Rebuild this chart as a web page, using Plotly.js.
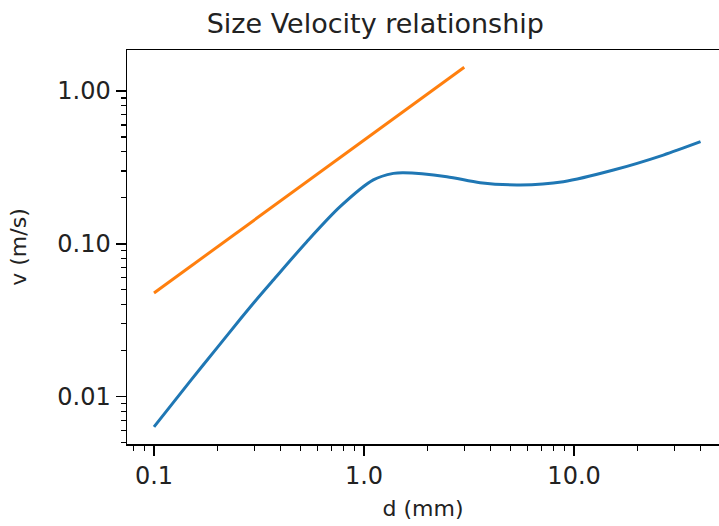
<!DOCTYPE html>
<html>
<head>
<meta charset="utf-8">
<script src="https://cdn.plot.ly/plotly-3.0.1.min.js"></script>
<style>html,body{margin:0;padding:0;background:#fff;}#chart{width:719px;height:526px;}</style>
</head>
<body>
<div id="chart"></div>
<script>
// Blue curve: settling velocity vs grain size
const dSettling = [0.1, 0.15, 0.2, 0.26, 0.3, 0.37, 0.534, 0.769, 1.107, 1.38, 1.54, 2.48, 3.57, 5.53, 8.89, 15.4, 26.6, 40];
const vSettling = [0.00635, 0.01284, 0.02093, 0.0327, 0.0415, 0.058, 0.1033, 0.175, 0.262, 0.289, 0.292, 0.275, 0.251, 0.243, 0.255, 0.304, 0.381, 0.466];
// Orange line
const dLinear = [0.1, 3];
const vLinear = [0.0477, 1.43];

const xTickVals = [0.1, 1, 10];
const xTickText = ["0.1", "1.0", "10.0"];
const yTickVals = [0.01, 0.1, 1];
const yTickText = ["0.01", "0.10", "1.00"];

const font = "DejaVu Sans, sans-serif";

const traces = [
  {x: dSettling, y: vSettling, mode: "lines", line: {color: "#1f77b4", width: 3, shape: "spline", smoothing: 0.8}, showlegend: false},
  {x: dLinear, y: vLinear, mode: "lines", line: {color: "#ff7f0e", width: 3}, showlegend: false}
];

const layout = {
  width: 719, height: 526,
  margin: {l: 127, r: 0, t: 50, b: 82},
  paper_bgcolor: "#fff", plot_bgcolor: "#fff",
  font: {family: font, color: "#222"},
  title: {text: "Size Velocity relationship", font: {size: 27, family: font, color: "#222"}, x: 0.522, xref: "container", xanchor: "center", y: 1, yref: "container", yanchor: "top", pad: {t: 14}},
  xaxis: {
    type: "log", range: [-1.1286, 1.690],
    tickvals: xTickVals, ticktext: xTickText,
    ticks: "outside", ticklen: 10, tickwidth: 1.5, tickcolor: "#000",
    minor: {ticks: "outside", ticklen: 5, tickwidth: 1.2, tickcolor: "#000", dtick: "D1", showgrid: false},
    showline: true, linecolor: "#000", linewidth: 1.5, mirror: true,
    showgrid: false, zeroline: false,
    tickfont: {size: 24, family: font, color: "#222"},
    title: {text: "d (mm)", font: {size: 22, family: font, color: "#222"}, standoff: 11},
    automargin: false
  },
  yaxis: {
    type: "log", range: [-2.3095, 0.2682],
    tickvals: yTickVals, ticktext: yTickText,
    ticks: "outside", ticklen: 10, tickwidth: 1.5, tickcolor: "#000",
    minor: {ticks: "outside", ticklen: 5, tickwidth: 1.2, tickcolor: "#000", dtick: "D1", showgrid: false},
    showline: true, linecolor: "#000", linewidth: 1.5, mirror: false,
    showgrid: false, zeroline: false,
    tickfont: {size: 24, family: font, color: "#222"},
    title: {text: "v (m/s)", font: {size: 22, family: font, color: "#222"}, standoff: 24},
    automargin: false
  }
};

Plotly.newPlot("chart", traces, layout, {displayModeBar: false, staticPlot: true});
</script>
</body>
</html>
